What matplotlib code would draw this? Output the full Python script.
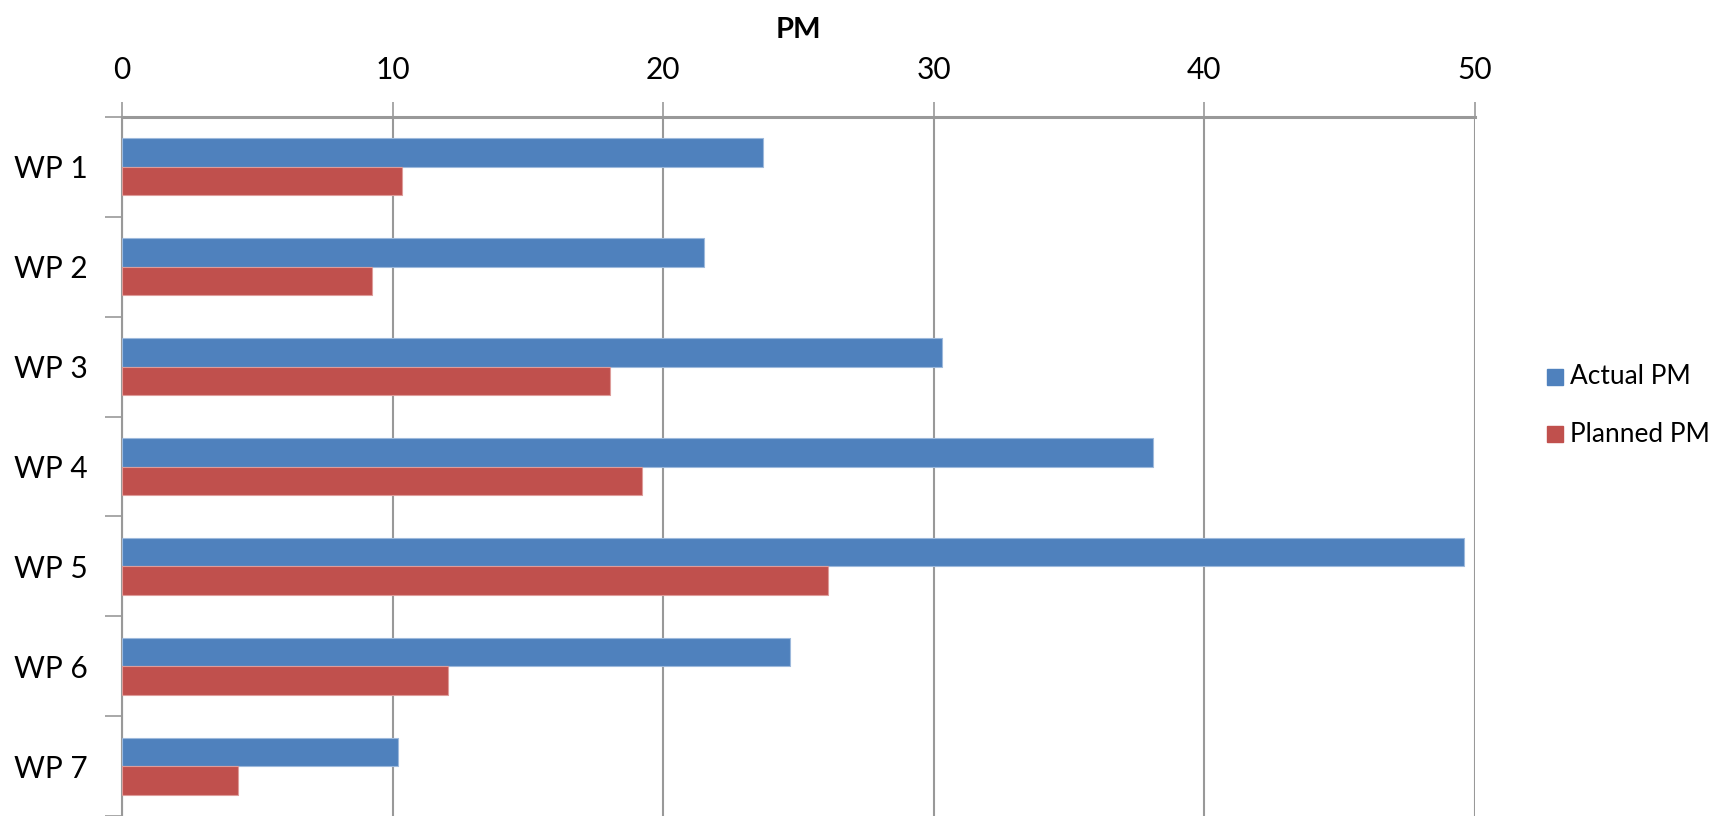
import matplotlib
matplotlib.use("Agg")
import matplotlib.pyplot as plt
from matplotlib.patches import Rectangle
import numpy as np

plt.rcParams['font.family'] = ['Lato', 'DejaVu Sans']

packages = ["WP 1", "WP 2", "WP 3", "WP 4", "WP 5", "WP 6", "WP 7"]
actual_pm = [23.7, 21.5, 30.3, 38.1, 49.6, 24.7, 10.2]
planned_pm = [10.35, 9.25, 18.05, 19.2, 26.1, 12.05, 4.3]
series = ["Actual PM", "Planned PM"]
x_ticks = [0, 10, 20, 30, 40, 50]

blue = "#4F81BD"
red = "#C0504D"
grey = "#999999"

W, H = 1720, 816
fig = plt.figure(figsize=(W / 100, H / 100), dpi=100)
ax = fig.add_axes([122 / W, 0, (1475 - 122) / W, 1 - 117 / H])

y = np.arange(len(packages))
h = 0.285
ax.barh(y - h / 2, actual_pm, height=h, color=blue, edgecolor="#9DB9DC",
        linewidth=0.8, zorder=3)
ax.barh(y + h / 2, planned_pm, height=h, color=red, edgecolor="#DE9C9A",
        linewidth=0.8, zorder=3)

ax.set_xlim(0, 50)
ax.set_ylim(len(packages) - 0.5, -0.5)

# value axis along the top
ax.xaxis.tick_top()
ax.set_xticks(x_ticks)
ax.tick_params(axis="x", length=11, width=1.2, color=grey, pad=13,
               labelsize=21.5, labelcolor="black")
ax.xaxis.set_label_position("top")
ax.set_xlabel("PM", fontsize=21, fontweight="bold", labelpad=13)
ax.grid(axis="x", color=grey, linewidth=1.5, zorder=0)

# category ticks sit between the groups
ax.set_yticks(np.arange(len(packages) + 1) - 0.5, minor=True)
ax.set_yticks(y)
ax.set_yticklabels(packages)
ax.tick_params(axis="y", which="major", length=0, pad=24.5, labelsize=21.5)
ax.tick_params(axis="y", which="minor", length=12, width=1.2, color=grey)

for side in ["right", "bottom"]:
    ax.spines[side].set_visible(False)
ax.spines["top"].set_color(grey)
ax.spines["top"].set_linewidth(2.2)
ax.spines["left"].set_color(grey)
ax.spines["left"].set_linewidth(1.5)

# legend on the right: size the text so the longer entry is 140 px wide
renderer = fig.canvas.get_renderer()
probe = fig.text(0, 0, series[1], fontsize=20)
leg_fs = 20 * 140 / probe.get_window_extent(renderer).width
probe.remove()

box = 16
for name, color, yc in zip(series, [blue, red], [377, 434]):
    fig.add_artist(Rectangle((1547 / W, 1 - (yc + box / 2) / H), box / W, box / H,
                             transform=fig.transFigure, color=color))
    fig.text(1570 / W, 1 - yc / H, name, fontsize=leg_fs, va="center", ha="left")

fig.savefig("out.png", dpi=100)
